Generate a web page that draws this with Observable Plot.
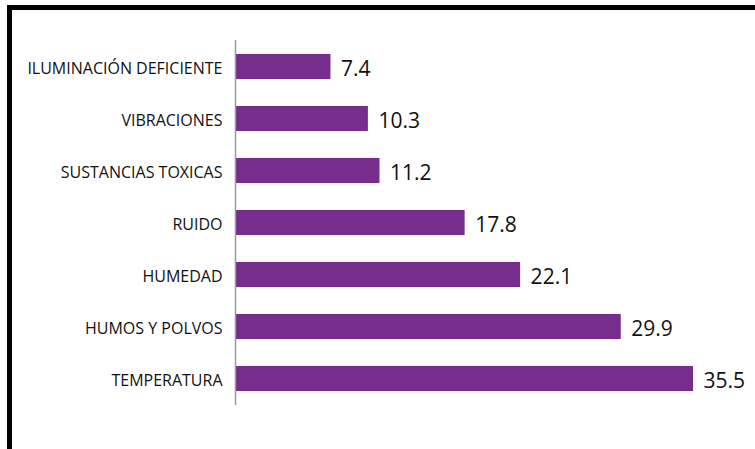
<!DOCTYPE html>
<html>
<head>
<meta charset="utf-8">
<script src="https://cdn.jsdelivr.net/npm/d3@7"></script>
<script src="https://cdn.jsdelivr.net/npm/@observablehq/plot@0.6"></script>
<style>
  html, body { margin: 0; padding: 0; background: #fff; overflow: hidden; }
  #wrap { position: relative; width: 755px; height: 449px; }
  #frame { position: absolute; left: 7px; top: 5px; width: 800px; height: 500px;
           border-left: 5px solid #000; border-top: 5px solid #000; }
  #chart { position: absolute; left: 0; top: 0; }
</style>
</head>
<body>
<div id="wrap"><div id="frame"></div><div id="chart"></div></div>
<script>
const categories = ["ILUMINACIÓN DEFICIENTE", "VIBRACIONES", "SUSTANCIAS TOXICAS", "RUIDO", "HUMEDAD", "HUMOS Y POLVOS", "TEMPERATURA"];
const values = [7.4, 10.3, 11.2, 17.8, 22.1, 29.9, 35.5];
const valueLabels = ["7.4", "10.3", "11.2", "17.8", "22.1", "29.9", "35.5"];

const data = categories.map((c, i) => ({cat: c, value: values[i], label: valueLabels[i]}));

const chart = Plot.plot({
  width: 755,
  height: 449,
  marginLeft: 235,
  marginRight: 62,
  marginTop: 40,
  marginBottom: 44,
  style: {fontFamily: "'Open Sans', sans-serif", background: "transparent"},
  x: {domain: [0, 35.5], axis: null},
  y: {domain: categories, paddingInner: 0.52, paddingOuter: 0.26, label: null},
  marks: [
    Plot.barX(data, {x: "value", y: "cat", fill: "#772d8c"}),
    Plot.ruleX([0], {stroke: "#999", strokeWidth: 1.5}),
    Plot.axisY({tickSize: 0, tickPadding: 13, dy: 2, fontSize: 16, fill: "#111", label: null}),
    Plot.text(data, {x: "value", y: "cat", text: "label", dx: 10, dy: 2, textAnchor: "start", fontSize: 21, fill: "#111"})
  ]
});
document.getElementById("chart").appendChild(chart);
</script>
</body>
</html>
